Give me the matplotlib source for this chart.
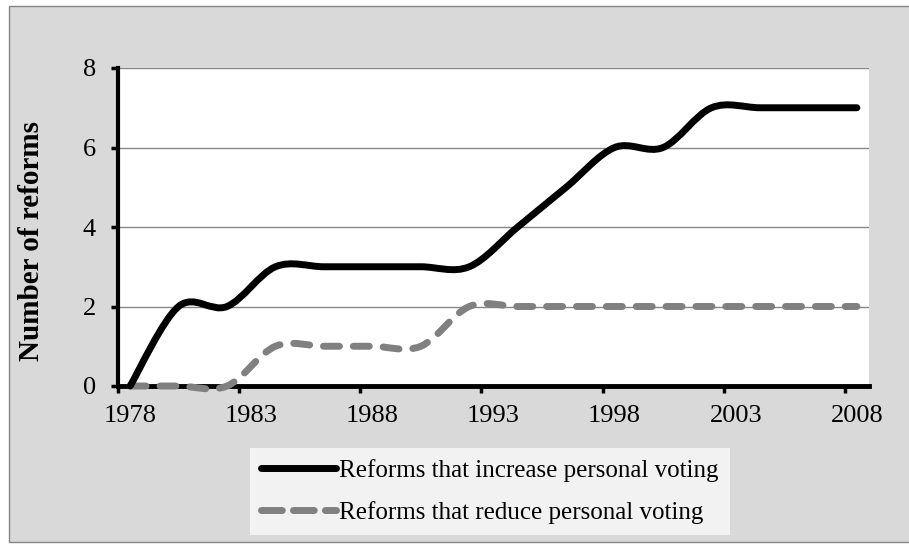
import numpy as np
import matplotlib
matplotlib.use('Agg')
import matplotlib.pyplot as plt
from matplotlib.path import Path
from matplotlib.patches import PathPatch, Rectangle
from matplotlib.lines import Line2D

# values (points every two years, Excel connects the gaps)
years = [1978, 1980, 1982, 1984, 1986, 1988, 1990, 1992,
         1994, 1996, 1998, 2000, 2002, 2004, 2006, 2008]
increase = [0, 2, 2, 3, 3, 3, 3, 3, 4, 5, 6, 6, 7, 7, 7, 7]
reduce = [0, 0, 0, 1, 1, 1, 1, 2, 2, 2, 2, 2, 2, 2, 2, 2]

tick_years = [1978, 1983, 1988, 1993, 1998, 2003, 2008]
y_ticks = [0, 2, 4, 6, 8]
labels = ['Reforms that increase personal voting',
          'Reforms that reduce personal voting']

plt.rcParams['font.family'] = ['Liberation Serif', 'DejaVu Serif']


def smooth_path(xs, ys):
    # excel style smoothed line: catmull-rom as cubic bezier
    pts = np.column_stack([xs, ys]).astype(float)
    n = len(pts)
    verts = [pts[0]]
    codes = [Path.MOVETO]
    for i in range(n - 1):
        p0 = pts[i - 1] if i > 0 else pts[i]
        p1 = pts[i]
        p2 = pts[i + 1]
        p3 = pts[i + 2] if i + 2 < n else pts[i + 1]
        verts += [p1 + (p2 - p0) / 6, p2 - (p3 - p1) / 6, p2]
        codes += [Path.CURVE4] * 3
    return Path(verts, codes)


fig = plt.figure(figsize=(9.09, 5.44), dpi=100, facecolor='white')
fig.patches.append(Rectangle((9 / 909, 2 / 544), 1.0, 536 / 544,
                             transform=fig.transFigure, facecolor='#d9d9d9',
                             edgecolor='#868686', linewidth=1, zorder=-1))

ax = fig.add_axes([118 / 909, 158 / 544, 751 / 909, 318 / 544])
ax.set_zorder(1)
ax.set_facecolor('white')
ax.set_xlim(1977.5, 2008.5)
ax.set_ylim(0, 8)

black = '#000000'
grey = '#808080'
dash = (0, (2.3, 2.0))

ax.add_patch(PathPatch(smooth_path(years, reduce), fill=False, edgecolor=grey,
                       linewidth=5, linestyle=dash, capstyle='round',
                       joinstyle='round', zorder=3, clip_on=False))
ax.add_patch(PathPatch(smooth_path(years, increase), fill=False, edgecolor=black,
                       linewidth=5, capstyle='round', joinstyle='round',
                       zorder=4, clip_on=False))

for s in ['top', 'right']:
    ax.spines[s].set_visible(False)
ax.spines['left'].set_linewidth(3)
ax.spines['bottom'].set_linewidth(3.5)

ax.set_yticks(y_ticks)
ax.yaxis.grid(True, color='#868686', linewidth=1)
ax.set_axisbelow(True)
ax.tick_params(axis='y', direction='out', length=5, width=2.5, pad=11,
               labelsize=19)

# ticks between categories, labels on the categories
ax.set_xticks([y - 0.5 for y in tick_years])
ax.set_xticklabels([])
ax.tick_params(axis='x', which='major', direction='out', length=5, width=2.5)
ax.set_xticks(tick_years, minor=True)
ax.set_xticklabels([str(y) for y in tick_years], minor=True)
ax.tick_params(axis='x', which='minor', length=0, pad=14, labelsize=19)

fig.text(32 / 909, 1 - 241 / 544, 'Number of reforms', rotation=90,
         ha='center', va='center', fontsize=21, fontweight='bold')

handles = [Line2D([], [], color=black, linewidth=5, solid_capstyle='round'),
           Line2D([], [], color=grey, linewidth=5, linestyle=(0, (3.0, 1.6)),
                  dash_capstyle='round')]
leg = fig.legend(handles, labels, loc='upper left',
                 bbox_to_anchor=(250 / 909, 1 - 448 / 544), frameon=True,
                 fontsize=18, handlelength=3.0, handletextpad=0.1,
                 labelspacing=0.75, borderpad=0.45, borderaxespad=0,
                 fancybox=False)
leg.get_frame().set_facecolor('#f2f2f2')
leg.get_frame().set_edgecolor('none')
leg.get_frame().set_alpha(None)

fig.savefig('out.png', dpi=100, facecolor='white')
